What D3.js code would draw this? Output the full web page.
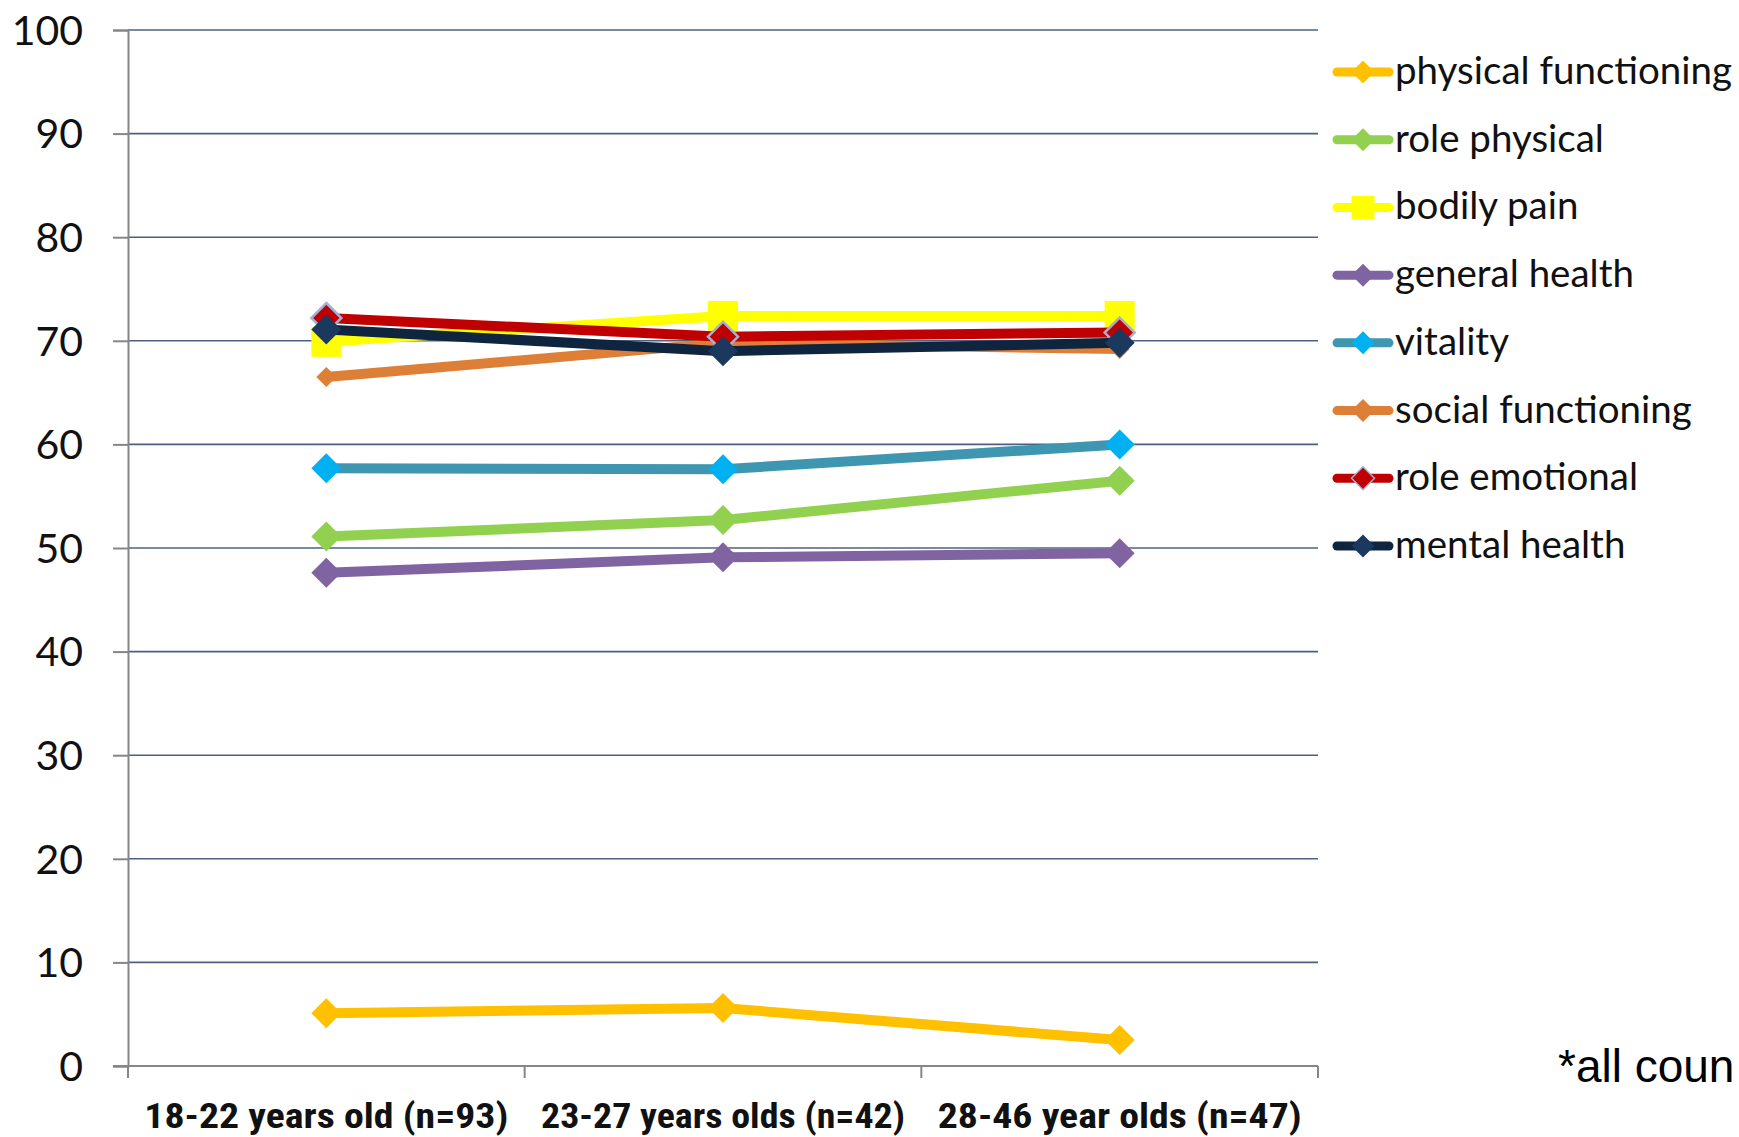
<!DOCTYPE html>
<html><head><meta charset="utf-8">
<script src="https://cdn.jsdelivr.net/npm/d3@7"></script>
<style>
html,body{margin:0;padding:0;background:#fff;overflow:hidden}
svg{display:block}
</style></head>
<body>
<svg id="chart" width="1739" height="1137"></svg>
<script>
const categories = ["18-22 years old (n=93)", "23-27 years olds (n=42)", "28-46 year olds (n=47)"];
const seriesNames = ["physical functioning","role physical","bodily pain","general health","vitality","social functioning","role emotional","mental health"];
const physicalFunctioning = [5.1, 5.6, 2.5];
const rolePhysical = [51.1, 52.7, 56.5];
const bodilyPain = [69.9, 72.4, 72.4];
const generalHealth = [47.6, 49.1, 49.5];
const vitality = [57.7, 57.6, 60.0];
const socialFunctioning = [66.5, 69.8, 69.2];
const roleEmotional = [72.2, 70.4, 70.8];
const mentalHealth = [71.1, 69.0, 69.8];
const yTicks = [0,10,20,30,40,50,60,70,80,90,100];
const footnote = "*all coun";

const styles = [
  {line:"#ffc000", fill:"#ffc000", stroke:"none", shape:"diamond", size:15},
  {line:"#92d050", fill:"#92d050", stroke:"none", shape:"diamond", size:15},
  {line:"#ffff00", fill:"#ffff00", stroke:"none", shape:"square", size:15},
  {line:"#8064a2", fill:"#8064a2", stroke:"none", shape:"diamond", size:15},
  {line:"#3f96b0", fill:"#00b0f0", stroke:"none", shape:"diamond", size:15},
  {line:"#de7f38", fill:"#de7f38", stroke:"none", shape:"diamond", size:10},
  {line:"#c00000", fill:"#c00000", stroke:"#9fb2d6", shape:"diamond", size:15},
  {line:"#0f243e", fill:"#1b385f", stroke:"none", shape:"diamond", size:15}
];
const values = [physicalFunctioning, rolePhysical, bodilyPain, generalHealth, vitality, socialFunctioning, roleEmotional, mentalHealth];
const series = seriesNames.map((n,i)=>({name:n, values:values[i], style:styles[i]}));

const svg = d3.select("#chart");
const mLeft = 128, mRight = 1318, mTop = 30, mBottom = 1066;
const x = d3.scaleBand().domain(categories).range([mLeft, mRight]);
const y = d3.scaleLinear().domain([0,100]).range([mBottom, mTop]);
const cx = c => x(c) + x.bandwidth()/2;

// gridlines
svg.append("g").selectAll("line").data(yTicks.filter(t=>t>0)).join("line")
  .attr("x1", mLeft).attr("x2", mRight)
  .attr("y1", d=>y(d)).attr("y2", d=>y(d))
  .attr("stroke", "#4e6080").attr("stroke-width", 1.6);

// y axis
const yAxis = svg.append("g").attr("transform", `translate(${mLeft},0)`)
  .call(d3.axisLeft(y).tickValues(yTicks).tickSize(15).tickPadding(30));
yAxis.select(".domain").attr("stroke", "#868686").attr("stroke-width", 2);
yAxis.selectAll(".tick line").attr("stroke", "#868686").attr("stroke-width", 2);
yAxis.selectAll(".tick text").attr("font-family", "Lato, 'Open Sans', sans-serif")
  .attr("font-size", 41).attr("fill", "#111").attr("dy", "0.35em");

// x axis
const edges = categories.map(c=>x(c)).concat([mRight]);
svg.append("line").attr("x1", mLeft - 15).attr("x2", mRight).attr("y1", mBottom).attr("y2", mBottom)
  .attr("stroke", "#868686").attr("stroke-width", 2);
svg.append("g").selectAll("line").data(edges).join("line")
  .attr("x1", d=>d).attr("x2", d=>d).attr("y1", mBottom).attr("y2", mBottom + 12)
  .attr("stroke", "#868686").attr("stroke-width", 2);
svg.append("g").selectAll("text").data(categories).join("text")
  .attr("x", d=>cx(d)).attr("y", 1128)
  .attr("text-anchor", "middle")
  .attr("font-family", "'Liberation Sans Narrow', 'Roboto Condensed', Roboto, sans-serif")
  .attr("font-weight", "bold").attr("font-size", 35).attr("fill", "#111")
  .attr("textLength", 364).attr("lengthAdjust", "spacingAndGlyphs")
  .text(d=>d);

function markerPath(shape, s){
  if(shape === "square") return `M${-s},${-s}H${s}V${s}H${-s}Z`;
  return `M0,${-s}L${s},0L0,${s}L${-s},0Z`;
}

const line = d3.line().x((d,i)=>cx(categories[i])).y(d=>y(d));
series.forEach(s=>{
  const g = svg.append("g");
  g.append("path").datum(s.values).attr("d", line)
    .attr("fill", "none").attr("stroke", s.style.line).attr("stroke-width", 10)
    .attr("stroke-linejoin", "round").attr("stroke-linecap", "round");
  g.selectAll("path.m").data(s.values).join("path").attr("class","m")
    .attr("transform", (d,i)=>`translate(${cx(categories[i])},${y(d)})`)
    .attr("d", markerPath(s.style.shape, s.style.size))
    .attr("fill", s.style.fill)
    .attr("stroke", s.style.stroke).attr("stroke-width", 2.5);
});

// legend
const lg = svg.append("g");
const legY = d3.scaleLinear().domain([0, 7]).range([72, 546]);
series.forEach((s,i)=>{
  const yy = legY(i);
  lg.append("line").attr("x1", 1337).attr("x2", 1389).attr("y1", yy).attr("y2", yy)
    .attr("stroke", s.style.line).attr("stroke-width", 9).attr("stroke-linecap", "round");
  lg.append("path").attr("transform", `translate(1363,${yy})`)
    .attr("d", markerPath(s.style.shape, 11.5))
    .attr("fill", s.style.fill).attr("stroke", s.style.stroke).attr("stroke-width", 1.5);
  lg.append("text").attr("x", 1395).attr("y", yy + 12)
    .attr("font-family", "Lato, 'Open Sans', sans-serif").attr("font-size", 38.5).attr("fill", "#111")
    .text(s.name);
});

svg.append("text").attr("x", 1558).attr("y", 1082)
  .attr("font-family", "'Liberation Sans', Arial, sans-serif").attr("font-size", 46).attr("fill", "#000")
  .text(footnote);
</script>
</body></html>
